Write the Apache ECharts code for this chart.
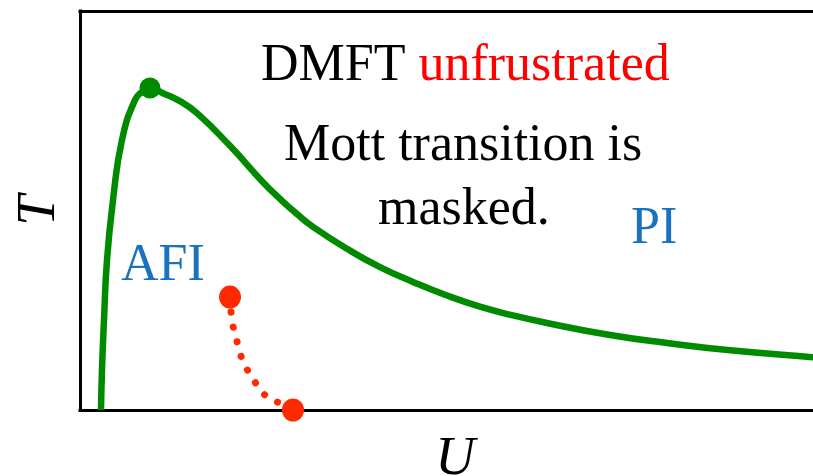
<!DOCTYPE html>
<html>
<head>
<meta charset="utf-8">
<script src="https://cdn.jsdelivr.net/npm/echarts@6/dist/echarts.min.js"></script>
<style>
html,body{margin:0;padding:0;background:#fff;}
#chart{width:813px;height:476px;}
</style>
</head>
<body>
<div id="chart"></div>
<script>
// Green boundary curve (U, T)
var greenU = [0.28,0.293,0.32,0.36,0.44,0.56,0.733,0.84,0.933,1.107,1.333,1.56,2.0,2.44,2.667,2.893,3.107,3.56,4.0,4.44,4.893,5.333,5.773,6.227,7.067,7.827,8.707,9.733,10.0];
var greenT = [0,1.0,2.26,3.76,5.26,6.77,7.77,7.99,8.07,7.94,7.74,7.44,6.62,5.71,5.29,4.91,4.59,4.04,3.58,3.21,2.87,2.59,2.37,2.18,1.88,1.68,1.49,1.33,1.29];
// Red dotted curve (U, T)
var redU = [2.0,2.03,2.08,2.13,2.21,2.31,2.41,2.55,2.71,2.84];
var redT = [2.83,2.21,1.83,1.45,1.08,0.78,0.48,0.28,0.13,0];
// Marked points
var greenPeak = [[0.933, 8.07]];
var redEnds = [[2.0, 2.83],[2.84, 0]];
// Labels
var axisNames = {x: 'U', y: 'T'};
var texts = {
  dmft: 'DMFT', unfr: 'unfrustrated',
  line1: 'Mott transition is', line2: 'masked.',
  pi: 'PI', afi: 'AFI'
};

function zip(a, b){ return a.map(function(v,i){ return [v, b[i]]; }); }

var chart = echarts.init(document.getElementById('chart'), null, {renderer:'canvas'});
var serif = '"Liberation Serif", "Times New Roman", serif';
var blue = '#1a72bf';
var axisLineStyle = {color:'#000', width:3, cap:'square'};
function ttl(left, top, s, color){
  return {text:s, left:left, top:top, padding:0, itemGap:0,
    textStyle:{fontFamily:serif, fontSize:52, fontWeight:'normal', color:color}};
}
chart.setOption({
  animation:false,
  backgroundColor:'#fff',
  title:[
    {text:'{k|' + texts.dmft + ' }{r|' + texts.unfr + '}', left:261, top:40, padding:0,
      textStyle:{fontFamily:serif, fontSize:52, fontWeight:'normal', color:'#000',
        rich:{
          k:{fontFamily:serif, fontSize:52, color:'#000'},
          r:{fontFamily:serif, fontSize:52, color:'#ff0000'}
        }}},
    ttl(284, 120, texts.line1, '#000'),
    ttl(378, 184, texts.line2, '#000'),
    ttl(631, 203, texts.pi, blue),
    ttl(121, 240, texts.afi, blue)
  ],
  grid:{left:80, right:-17, top:11, bottom:66, show:false, containLabel:false, outerBoundsMode:'none'},
  xAxis:[{
    type:'value', min:0, max:10, position:'bottom',
    name:axisNames.x, nameLocation:'middle', nameGap:22,
    nameTextStyle:{fontFamily:serif, fontStyle:'italic', fontSize:55, color:'#000'},
    axisLine:{show:true, onZero:false, lineStyle:axisLineStyle},
    axisTick:{show:false}, axisLabel:{show:false}, splitLine:{show:false}
  },{
    type:'value', min:0, max:10, position:'top',
    axisLine:{show:true, onZero:false, lineStyle:axisLineStyle},
    axisTick:{show:false}, axisLabel:{show:false}, splitLine:{show:false}
  }],
  yAxis:{
    type:'value', min:0, max:10,
    name:axisNames.y, nameLocation:'middle', nameGap:13, nameRotate:90,
    nameTextStyle:{fontFamily:serif, fontStyle:'italic', fontSize:55, color:'#000'},
    axisLine:{show:true, onZero:false, lineStyle:axisLineStyle},
    axisTick:{show:false}, axisLabel:{show:false}, splitLine:{show:false}
  },
  series:[{
    type:'line', data:zip(greenU, greenT), smooth:0.5, showSymbol:false, clip:true,
    lineStyle:{color:'#008a00', width:6.5}
  },{
    type:'line', data:zip(redU, redT), smooth:0.5, showSymbol:false,
    lineStyle:{color:'#ff2a00', width:7, type:[0.1, 15], cap:'round'}
  },{
    type:'scatter', data:greenPeak, symbolSize:21, itemStyle:{color:'#008a00', opacity:1}
  },{
    type:'scatter', data:redEnds, symbolSize:[22, 23], itemStyle:{color:'#ff2a00', opacity:1}
  }]
});
</script>
</body>
</html>
